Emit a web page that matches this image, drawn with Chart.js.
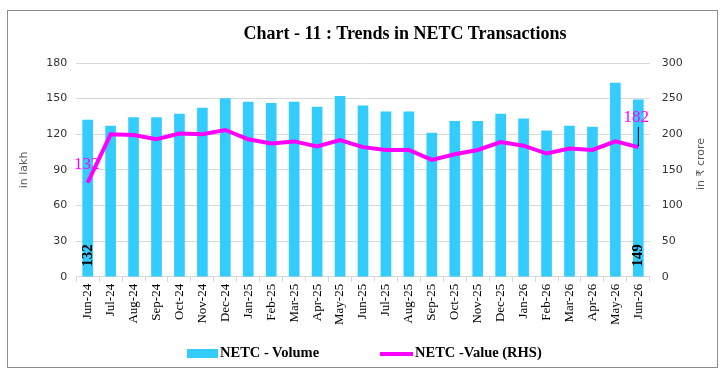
<!DOCTYPE html>
<html>
<head>
<meta charset="utf-8">
<script src="https://cdn.jsdelivr.net/npm/chart.js@4"></script>
<style>
  body { margin: 0; background: #fff; }
  #wrap { position: relative; width: 725px; height: 377px; }
  #frame { position: absolute; left: 7px; top: 10px; width: 709px; height: 356px; border: 1.5px solid #8c8c8c; }
  #title { position: absolute; left: 90px; width: 630px; top: 23px; text-align: center;
           font: bold 18px "Liberation Serif", serif; color: #000; }
  #chart { position: absolute; left: 0; top: 0; }
  .leg { position: absolute; top: 344px; font: bold 14.5px "Liberation Serif", serif; color: #000; }
  .leg i { display: inline-block; vertical-align: middle; margin-right: 2px; }
</style>
</head>
<body>
<div id="wrap">
  <div id="frame"></div>
  <canvas id="chart" width="725" height="377"></canvas>
  <div id="title">Chart - 11 : Trends in NETC Transactions</div>
  <div class="leg" style="left:187px"><i style="width:31px;height:9px;background:#33ccff"></i>NETC - Volume</div>
  <div class="leg" style="left:380px"><i style="width:33px;height:4px;background:#ff00ff"></i>NETC -Value (RHS)</div>
</div>
<script>
// Monate
const months = ['Jun-24', 'Jul-24', 'Aug-24', 'Sep-24', 'Oct-24', 'Nov-24', 'Dec-24',
                'Jan-25', 'Feb-25', 'Mar-25', 'Apr-25', 'May-25', 'Jun-25', 'Jul-25',
                'Aug-25', 'Sep-25', 'Oct-25', 'Nov-25', 'Dec-25', 'Jan-26', 'Feb-26',
                'Mar-26', 'Apr-26', 'May-26', 'Jun-26'];
// Volumen in lakh
const volume = [132, 127, 134, 134, 137, 142, 150, 147, 146, 147, 143, 152, 144, 139,
                139, 121, 131, 131, 137, 133, 123, 127, 126, 163, 149];
// Wert in Rs crore (RHS)
const value = [132, 200, 199, 193, 201, 200, 206, 193, 187, 190, 183, 192, 182, 178,
               178, 164, 172, 178, 189, 184, 173, 180, 178, 190, 182];
const leftTicks = [0, 30, 60, 90, 120, 150, 180];
const rightTicks = [0, 50, 100, 150, 200, 250, 300];

// Beschriftungen am ersten und letzten Punkt
const endLabels = {
    id: 'endLabels',
    afterDatasetsDraw(chart) {
        const ctx = chart.ctx;
        const bars = chart.getDatasetMeta(1).data;
        const pts = chart.getDatasetMeta(0).data;
        const last = volume.length - 1;
        const yBase = chart.scales.y.getPixelForValue(0);
        ctx.save();
        // Balkenwerte, senkrecht
        ctx.font = 'bold 15px "Liberation Serif", serif';
        ctx.fillStyle = '#000';
        ctx.textAlign = 'left';
        ctx.textBaseline = 'middle';
        [0, last].forEach(i => {
            ctx.save();
            ctx.translate(bars[i].x, yBase - 10);
            ctx.rotate(-Math.PI / 2);
            ctx.fillText(volume[i], 0, 0);
            ctx.restore();
        });
        // Linienwerte
        ctx.font = '17px "Liberation Serif", serif';
        ctx.fillStyle = '#ff00ff';
        ctx.textAlign = 'center';
        ctx.textBaseline = 'middle';
        ctx.fillText(value[0], pts[0].x - 1, pts[0].y - 18);
        ctx.fillText(value[last], pts[last].x - 2, pts[last].y - 30);
        ctx.strokeStyle = '#000';
        ctx.lineWidth = 1;
        ctx.beginPath();
        ctx.moveTo(pts[last].x, pts[last].y - 20);
        ctx.lineTo(pts[last].x, pts[last].y - 1);
        ctx.stroke();
        // rechte Achsenbeschriftung, von unten nach oben
        const s = chart.scales.y1;
        ctx.save();
        ctx.translate(s.right - 13, (s.top + s.bottom) / 2 - 6);
        ctx.rotate(-Math.PI / 2);
        ctx.font = '11px "DejaVu Sans", sans-serif';
        ctx.fillStyle = '#595959';
        ctx.fillText('in ₹ crore', 0, 0);
        ctx.restore();
        ctx.restore();
    }
};

const ctx = document.getElementById('chart').getContext('2d');
new Chart(ctx, {
    type: 'bar',
    data: {
        labels: months,
        datasets: [{
            type: 'line',
            label: 'NETC -Value (RHS)',
            data: value,
            yAxisID: 'y1',
            borderColor: '#ff00ff',
            borderWidth: 4,
            pointRadius: 0,
            tension: 0,
            order: 0
        }, {
            label: 'NETC - Volume',
            data: volume,
            yAxisID: 'y',
            backgroundColor: '#33ccff',
            barThickness: 10,
            order: 1
        }]
    },
    options: {
        responsive: false,
        animation: false,
        layout: {
            padding: { top: 63, left: 12, right: 11, bottom: 50 }
        },
        plugins: {
            legend: { display: false },
            tooltip: { enabled: false }
        },
        scales: {
            x: {
                grid: { display: true, drawOnChartArea: false, offset: true, tickLength: 5, color: '#d9d9d9' },
                border: { color: '#d9d9d9' },
                ticks: {
                    minRotation: 90,
                    maxRotation: 90,
                    autoSkip: false,
                    padding: 2,
                    color: '#000',
                    font: { family: '"Liberation Serif", serif', size: 13 }
                }
            },
            y: {
                position: 'left',
                min: 0,
                max: 180,
                afterBuildTicks: s => { s.ticks = leftTicks.map(v => ({ value: v })); },
                grid: { color: '#d9d9d9', drawTicks: false },
                border: { display: false },
                ticks: { padding: 9, color: '#333', font: { family: '"DejaVu Sans", sans-serif', size: 11 } },
                title: { display: true, text: 'in lakh', color: '#595959', padding: 6,
                         font: { family: '"DejaVu Sans", sans-serif', size: 11 } }
            },
            y1: {
                position: 'right',
                min: 0,
                max: 300,
                afterBuildTicks: s => { s.ticks = rightTicks.map(v => ({ value: v })); },
                grid: { drawOnChartArea: false, drawTicks: false },
                border: { display: false },
                ticks: { padding: 12, color: '#333', font: { family: '"DejaVu Sans", sans-serif', size: 11 } },
                // Platz für die Beschriftung, gezeichnet im Plugin
                title: { display: true, text: 'in ₹ crore', color: 'rgba(0,0,0,0)', padding: 3,
                         font: { family: '"DejaVu Sans", sans-serif', size: 11 } }
            }
        }
    },
    plugins: [endLabels]
});
</script>
</body>
</html>
